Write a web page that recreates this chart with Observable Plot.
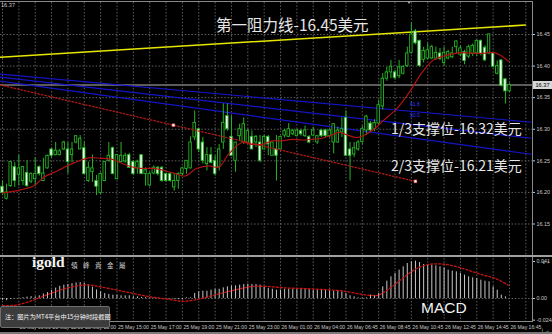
<!DOCTYPE html>
<html>
<head>
<meta charset="utf-8">
<script src="https://cdn.jsdelivr.net/npm/d3@7"></script>
<script src="https://cdn.jsdelivr.net/npm/@observablehq/plot@0.6"></script>
<style>
  html, body { margin: 0; padding: 0; background: #000; }
  #chart { position: relative; width: 552px; height: 334px; background: #000; overflow: hidden;
           font-family: "Liberation Sans", Arial, sans-serif; }
  #chart svg { position: absolute; left: 0; }
  .ov { position: absolute; white-space: nowrap; line-height: 1; }
  .line { position: absolute; }
</style>
</head>
<body>
<div id="chart"></div>
<script>
// ---- XAGUSD M15 candles (bar index 0 .. 124) ----
const open = [
  16.209,16.190,16.210,16.240,16.228,16.218,16.231,16.217,16.221,16.240,
  16.218,16.238,16.268,16.259,16.259,16.268,16.268,16.259,16.279,16.268,
  16.270,16.218,16.232,16.218,16.199,16.218,16.250,16.270,16.221,16.248,
  16.249,16.259,16.248,16.238,16.259,16.229,16.211,16.230,16.239,16.239,
  16.229,16.229,16.208,16.218,16.229,16.237,16.238,16.287,16.300,16.279,
  16.245,16.259,16.250,16.240,16.279,16.321,16.288,16.250,16.289,16.279,
  16.279,16.288,16.279,16.279,16.268,16.288,16.258,16.268,16.268,16.290,
  16.288,16.292,16.289,16.297,16.289,16.288,16.290,16.279,16.298,16.298,
  16.289,16.279,16.279,16.295,16.318,16.268,16.260,16.268,16.280,16.298,
  16.309,16.300,16.309,16.336,16.380,16.390,16.390,16.384,16.388,16.400,
  16.421,16.455,16.440,16.410,16.412,16.412,16.412,16.420,16.405,16.412,
  16.414,16.430,16.418,16.422,16.415,16.419,16.421,16.440,16.429,16.420,
  16.420,16.388,16.409,16.379,16.360
];
const high = [
  16.218,16.213,16.249,16.247,16.259,16.241,16.250,16.231,16.255,16.242,
  16.254,16.259,16.270,16.279,16.268,16.281,16.279,16.279,16.290,16.290,
  16.279,16.248,16.259,16.227,16.231,16.249,16.279,16.272,16.260,16.279,
  16.262,16.262,16.250,16.251,16.260,16.239,16.232,16.242,16.241,16.241,
  16.231,16.231,16.229,16.231,16.240,16.250,16.288,16.329,16.300,16.287,
  16.271,16.271,16.258,16.276,16.340,16.340,16.321,16.279,16.308,16.318,
  16.300,16.297,16.290,16.290,16.290,16.290,16.279,16.290,16.288,16.300,
  16.309,16.300,16.300,16.300,16.305,16.290,16.303,16.290,16.300,16.300,
  16.300,16.308,16.303,16.318,16.329,16.279,16.279,16.282,16.305,16.322,
  16.312,16.315,16.346,16.388,16.398,16.409,16.393,16.409,16.400,16.430,
  16.468,16.458,16.441,16.430,16.436,16.433,16.430,16.428,16.430,16.425,
  16.430,16.440,16.432,16.425,16.433,16.435,16.441,16.441,16.432,16.451,
  16.422,16.408,16.410,16.380,16.372
];
const low = [
  16.195,16.188,16.208,16.208,16.210,16.211,16.208,16.214,16.210,16.226,
  16.217,16.237,16.254,16.258,16.258,16.266,16.229,16.247,16.277,16.268,
  16.228,16.216,16.216,16.195,16.197,16.217,16.248,16.228,16.220,16.247,
  16.246,16.238,16.227,16.229,16.228,16.210,16.209,16.228,16.226,16.216,
  16.216,16.216,16.202,16.205,16.226,16.229,16.237,16.282,16.263,16.245,
  16.234,16.245,16.226,16.234,16.268,16.297,16.258,16.232,16.281,16.276,
  16.276,16.268,16.271,16.247,16.268,16.258,16.258,16.218,16.268,16.286,
  16.287,16.290,16.288,16.289,16.287,16.277,16.288,16.276,16.287,16.287,
  16.287,16.261,16.278,16.287,16.258,16.218,16.255,16.265,16.276,16.290,
  16.296,16.296,16.306,16.330,16.376,16.380,16.378,16.380,16.386,16.398,
  16.419,16.434,16.398,16.405,16.410,16.410,16.409,16.409,16.400,16.410,
  16.412,16.419,16.415,16.402,16.412,16.415,16.415,16.416,16.407,16.418,
  16.397,16.386,16.367,16.340,16.358
];
const close = [
  16.199,16.200,16.248,16.218,16.238,16.240,16.210,16.229,16.229,16.229,
  16.230,16.258,16.258,16.266,16.265,16.279,16.248,16.268,16.289,16.285,
  16.229,16.239,16.238,16.209,16.229,16.248,16.258,16.229,16.259,16.258,
  16.258,16.239,16.229,16.248,16.229,16.235,16.229,16.239,16.229,16.218,
  16.218,16.218,16.218,16.229,16.238,16.250,16.279,16.310,16.268,16.250,
  16.259,16.247,16.229,16.268,16.310,16.300,16.258,16.279,16.300,16.308,
  16.297,16.268,16.288,16.250,16.288,16.276,16.279,16.258,16.288,16.297,
  16.300,16.297,16.298,16.292,16.298,16.279,16.298,16.289,16.289,16.289,
  16.298,16.308,16.298,16.300,16.258,16.258,16.270,16.279,16.300,16.320,
  16.298,16.310,16.338,16.380,16.390,16.399,16.381,16.398,16.399,16.420,
  16.450,16.436,16.400,16.424,16.425,16.430,16.421,16.411,16.421,16.422,
  16.420,16.439,16.428,16.408,16.430,16.432,16.440,16.419,16.409,16.450,
  16.399,16.400,16.369,16.360,16.370
];
const lastPrice = 16.37;

// Moving average, read at a set of bars
const maBars = [0,4.4,7.7,10.1,13.4,15.8,18.7,21.5,24,26.4,28.8,31.3,33.7,37,38.6,41.9,44.7,47.2,50.4,52.9,
  55.3,58.6,61,63.5,66,68.4,70.8,73.3,75.7,78.2,80.6,82.2,83.9,86.3,87.5,90,93.2,96.5,99.8,102.5,
  105.5,108,111.5,117,120.5,123.7];
const maValues = [16.199,16.204,16.2105,16.224,16.234,16.242,16.250,16.255,16.254,16.253,16.247,16.241,16.238,16.238,16.236,16.2305,16.226,16.237,16.242,16.240,
  16.2605,16.279,16.276,16.276,16.2816,16.2816,16.284,16.283,16.284,16.2858,16.291,16.295,16.292,16.287,16.288,16.296,16.314,16.333,16.3616,16.389,
  16.410,16.416,16.421,16.420,16.421,16.408];

// MACD histogram (one value per bar) and signal line
const macd = [
  -0.0020,-0.0025,-0.0010,-0.0005,0.0005,0.0010,0.0015,0.0020,0.0018,0.0030,
  0.0050,0.0065,0.0090,0.0115,0.0135,0.0148,0.0155,0.0165,0.0173,0.0177,
  0.0168,0.0150,0.0125,0.0095,0.0075,0.0055,0.0045,0.0037,0.0037,0.0030,
  0.0030,0.0030,0.0020,0.0018,0.0012,0.0010,0.0007,0.0007,0.0003,0.0000,
  0.0000,-0.0005,-0.0007,-0.0012,-0.0015,0.0007,0.0007,0.0055,0.0074,0.0080,
  0.0080,0.0092,0.0103,0.0103,0.0118,0.0129,0.0137,0.0140,0.0148,0.0155,
  0.0159,0.0155,0.0155,0.0148,0.0129,0.0111,0.0103,0.0092,0.0092,0.0103,
  0.0103,0.0100,0.0100,0.0100,0.0100,0.0100,0.0092,0.0092,0.0092,0.0092,
  0.0085,0.0081,0.0081,0.0074,0.0055,0.0030,0.0018,0.0007,0.0007,0.0007,
  0.0037,0.0030,0.0055,0.0129,0.0192,0.0240,0.0277,0.0314,0.0351,0.0388,
  0.0407,0.0414,0.0399,0.0377,0.0377,0.0370,0.0362,0.0351,0.0340,0.0314,
  0.0303,0.0296,0.0277,0.0259,0.0240,0.0229,0.0222,0.0203,0.0192,0.0185,
  0.0129,0.0092,0.0037,0.0018,0.0000
];
const signalBars = [0,3.2,7.6,11.7,15.9,19.6,21.5,24,28.1,32,36.2,40.3,44.5,48.7,52.6,56.7,60.9,64.8,69,73.1,
  77,81.2,83.6,86.8,89.5,91.9,94.4,97.6,101,104.2,107.8,110.8,113.9,117.1,120.5,123.7];
const signalValues = [-0.0080,-0.0074,-0.0018,0.0055,0.0118,0.0148,0.0148,0.0129,0.0092,0.0055,0.0018,-0.0007,-0.0030,0.0000,0.0048,0.0092,0.0133,0.0133,0.0118,0.0111,
  0.0103,0.0092,0.0081,0.0055,0.0037,0.0037,0.0103,0.0214,0.0325,0.0377,0.0381,0.0355,0.0314,0.0266,0.0222,0.0148];

// Drawn objects: resistance line, Fibonacci fan, dotted trend line
const resistanceBars = [-0.5, 127.9];
const resistancePrices = [16.414, 16.465];
const fanNames = ["61.8", "50.0", "38.2"];
const fanBars = [-0.5, 129.3];
const fanStartPrices = [16.3873, 16.3825, 16.3762];
const fanEndPrices = [16.3111, 16.2857, 16.2603];
const trendBars = [-0.5, 101];
const trendPrices = [16.370, 16.2175];
const trendAnchorBars = [41.8, 101];
const trendAnchorPrices = [16.3064, 16.2175];

// Axis ticks
const priceTicks = [16.15, 16.20, 16.25, 16.30, 16.35, 16.40, 16.45];
const macdTicks = [0.041, 0, -0.024];
const macdTickLabels = ["0.041", "0.00", "-0.024"];
const timeTickBars = [4,12,20,28,36,44,52,60,68,76,84,92,100,108,116,124];
const timeLabels = ["25 May 09:00","25 May 11:00","25 May 13:00","25 May 15:00","25 May 17:00","25 May 19:00",
  "25 May 21:00","25 May 23:00","26 May 01:00","26 May 04:00","26 May 06:45","26 May 08:45",
  "26 May 10:45","26 May 12:45","26 May 14:45","26 May 16:45"];

// ---- derived tables ----
const candles = open.map((o, i) => ({i, o, h: high[i], l: low[i], c: close[i], up: close[i] >= o}));
const ma = maBars.map((i, k) => ({i, p: maValues[k]}));
const macdData = macd.map((v, i) => ({i, v}));
const signal = signalBars.map((i, k) => ({i, v: signalValues[k]}));
const resistance = resistanceBars.map((i, k) => ({i, p: resistancePrices[k]}));
const fan = fanNames.flatMap((name, k) => [
  {name, i: fanBars[0], p: fanStartPrices[k]},
  {name, i: fanBars[1], p: fanEndPrices[k]}
]);
const trend = trendBars.map((i, k) => ({i, p: trendPrices[k]}));
const trendAnchors = trendAnchorBars.map((i, k) => ({i, p: trendAnchorPrices[k]}));
const gridBars = d3.range(0, 132, 4);

const GRID = "#6a6a6a";
const WICK = "#27b427";
const AXIS = "#c8c8c8";
const xScale = {type: "linear", domain: [0, 124], range: [2, 509]};
const baseStyle = {background: "transparent", color: AXIS, fontFamily: "Liberation Sans, Arial, sans-serif", fontSize: "5.4px"};

const main = Plot.plot({
  width: 552, height: 257,
  marginLeft: 0, marginRight: 20, marginTop: 2, marginBottom: 2,
  style: baseStyle,
  x: {...xScale, axis: null},
  y: {domain: [16.15, 16.45], range: [223.5, 34], axis: null},
  marks: [
    Plot.ruleX(gridBars, {stroke: GRID, strokeWidth: 0.9, strokeDasharray: "1.5,1.8"}),
    Plot.ruleY(priceTicks, {stroke: GRID, strokeWidth: 0.9, strokeDasharray: "1.5,1.8"}),
    Plot.ruleY([lastPrice], {stroke: "#7a7a7a", strokeWidth: 1.6}),
    Plot.line(fan, {x: "i", y: "p", z: "name", stroke: "#1414c8", strokeWidth: 1.1, clip: true}),
    Plot.line(resistance, {x: "i", y: "p", stroke: "#e6e600", strokeWidth: 1.6, clip: true}),
    Plot.ruleX(candles, {x: "i", y1: "l", y2: "h", stroke: WICK, strokeWidth: 1}),
    Plot.rect(candles, {
      x1: d => d.i - 0.3, x2: d => d.i + 0.3, y1: "o", y2: "c",
      fill: d => d.up ? "#000" : "#f2fff2", stroke: WICK, strokeWidth: 0.9
    }),
    Plot.line(ma, {x: "i", y: "p", curve: "catmull-rom", stroke: "#b01212", strokeWidth: 1.2}),
    Plot.line(trend, {x: "i", y: "p", stroke: "#b01818", strokeWidth: 1.3, strokeDasharray: "1.5,2", clip: true}),
    Plot.dot(trendAnchors, {x: "i", y: "p", symbol: "square", r: 1.7, fill: "#fff", stroke: "#b01818", strokeWidth: 0.6}),
    Plot.axisY({anchor: "right", ticks: priceTicks, tickFormat: d3.format(".2f"), tickSize: 2, tickPadding: 2, stroke: AXIS, fill: AXIS})
  ]
});
main.style.top = "0px";

const lower = Plot.plot({
  width: 552, height: 77,
  marginLeft: 0, marginRight: 20, marginTop: 1, marginBottom: 12,
  style: baseStyle,
  x: {...xScale, axis: null},
  y: {domain: [0, 0.041], range: [41, 4], axis: null},
  marks: [
    Plot.ruleX(gridBars, {stroke: GRID, strokeWidth: 0.9, strokeDasharray: "1.5,1.8"}),
    Plot.ruleY([0], {stroke: GRID, strokeWidth: 0.9, strokeDasharray: "1.5,1.8"}),
    Plot.ruleX(macdData, {x: "i", y1: 0, y2: "v", stroke: "#c6c6c6", strokeWidth: 1}),
    Plot.line(signal, {x: "i", y: "v", curve: "catmull-rom", stroke: "#c81414", strokeWidth: 1.3, strokeDasharray: "2,2"}),
    Plot.axisY({anchor: "right", ticks: macdTicks, tickFormat: d => macdTickLabels[macdTicks.indexOf(d)], tickSize: 2, tickPadding: 2, stroke: AXIS, fill: AXIS}),
    Plot.axisX({anchor: "bottom", ticks: timeTickBars, tickFormat: d => timeLabels[timeTickBars.indexOf(d)],
      tickSize: 0, tickPadding: 2.5, textAnchor: "start", dx: 1, fill: AXIS, fontSize: 5.1})
  ]
});
lower.style.top = "257px";

const chart = document.getElementById("chart");
chart.append(main, lower);

// frame lines
function bar(left, top, width, height, color) {
  const el = document.createElement("div");
  el.className = "line";
  Object.assign(el.style, {left: left + "px", top: top + "px", width: width + "px", height: height + "px", background: color});
  chart.append(el);
}
bar(0, 1, 533, 1, "#8a8a8a");
bar(532, 1, 1, 321, "#8a8a8a");
bar(0, 255, 552, 2, "#a0a0a0");
bar(0, 321, 533, 1, "#8a8a8a");
bar(0, 332, 552, 2, "#7a7a7a");

// text overlays
function label(text, css) {
  const el = document.createElement("div");
  el.className = "ov";
  el.textContent = text;
  Object.assign(el.style, css);
  chart.append(el);
  return el;
}
const cjk = '"Noto Sans CJK SC", "Noto Sans", sans-serif';
label("第一阻力线-16.45美元", {left: "216px", top: "17px", fontSize: "15.5px", color: "#e6e6e6", fontFamily: cjk});
label("1/3支撑位-16.32美元", {left: "391px", top: "121px", fontSize: "14px", color: "#e6e6e6", fontFamily: cjk});
label("2/3支撑位-16.21美元", {left: "391px", top: "158px", fontSize: "14px", color: "#e6e6e6", fontFamily: cjk});
label("MACD", {left: "421px", top: "300px", fontSize: "15.5px", color: "#f2f2f2"});
label("61.8", {left: "410px", top: "102px", fontSize: "5px", color: "#3434ff"});
label("50.0", {left: "410px", top: "113px", fontSize: "5px", color: "#3434ff"});
label("16.37", {left: "1px", top: "3px", fontSize: "5.6px", color: AXIS});

// last price tag on the axis
const yLast = main.scale("y").apply(lastPrice);
label(d3.format(".2f")(lastPrice), {left: "533px", top: (yLast - 4) + "px", width: "19px", height: "8px", lineHeight: "8px",
  fontSize: "5.6px", color: "#000", background: "#d8d8d8", textAlign: "center"});

// chart shift marker
const tri = document.createElement("div");
Object.assign(tri.style, {position: "absolute", left: "407px", top: "1px", width: 0, height: 0,
  borderLeft: "2.5px solid transparent", borderRight: "2.5px solid transparent", borderTop: "3px solid #a0a0a0"});
chart.append(tri);

// broker logo
label("igold", {left: "32px", top: "254px", fontSize: "15.5px", fontWeight: "bold", color: "#f4f4f4",
  fontFamily: '"Liberation Serif", "DejaVu Serif", serif'});
label("領峰貴金屬", {left: "71px", top: "262px", fontSize: "6.5px", color: "#d0d0d0",
  fontFamily: '"Noto Sans CJK TC", sans-serif', letterSpacing: "5.5px"});

// note box
label("注：图片为MT4平台中15分钟时段截图", {left: "0px", top: "306px", width: "104px", height: "20px", lineHeight: "20px",
  paddingLeft: "4px", fontSize: "6.2px", color: "#f4f4f4", background: "#3c3c3c", border: "1px solid #6e6e6e",
  borderRadius: "2px", fontFamily: cjk});
</script>
</body>
</html>
